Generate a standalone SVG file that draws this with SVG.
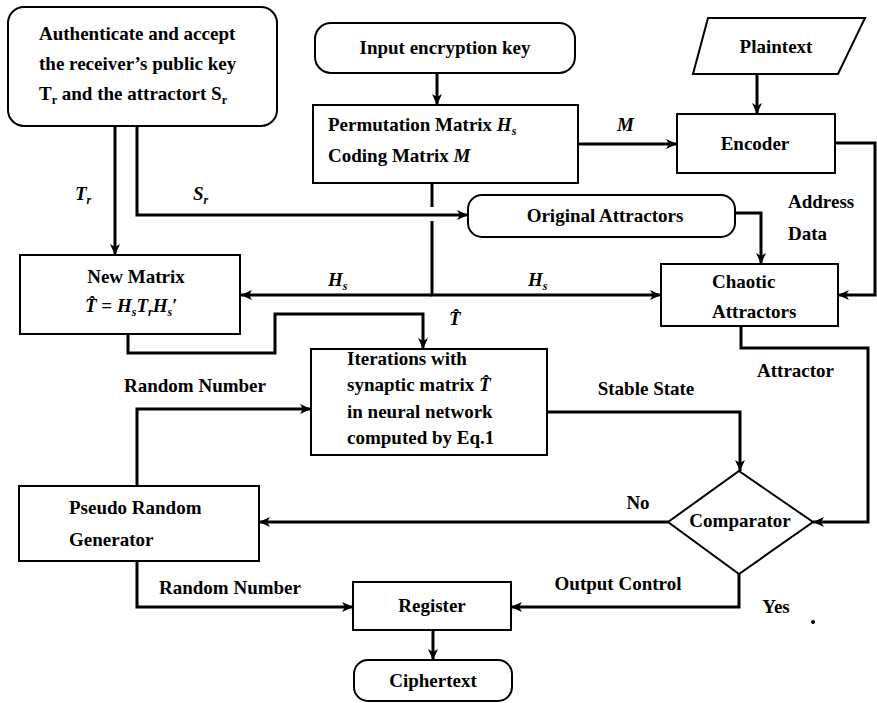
<svg xmlns="http://www.w3.org/2000/svg" width="877" height="703" viewBox="0 0 877 703">
<style>
text{font-family:"Liberation Serif","Times New Roman",serif;font-size:19px;font-weight:bold;fill:#000}
.c{text-anchor:middle}
.i{font-style:italic}
.sub{font-size:12px}
.box{fill:#fff;stroke:#000;stroke-width:2}
.con path{fill:none;stroke:#000;stroke-width:3}
.arr{marker-end:url(#ah)}
</style>
<defs>
<marker id="ah" markerUnits="userSpaceOnUse" markerWidth="12" markerHeight="10" refX="11" refY="5" orient="auto">
<path d="M0,0 L11,5 L0,10 L3,5 z" fill="#000"/>
</marker>
</defs>
<rect width="877" height="703" fill="#fff"/>
<g id="connectors" class="con">
<path class="arr" d="M437,73 V105"/>
<path class="arr" d="M757,74 V114"/>
<path class="arr" d="M578,144 H677"/>
<path class="arr" d="M115,126 V255"/>
<path class="arr" d="M137,126 V215 H468"/>
<path d="M432,183 V207"/>
<path class="arr" d="M432,221 V295 H661"/>
<path class="arr" d="M432,295 H241"/>
<path class="arr" d="M735,213 H761 V264"/>
<path class="arr" d="M835,143 H875 V295 H838"/>
<path class="arr" d="M128,334 V353 H275 V314 H423 V349"/>
<path class="arr" d="M741,326 V348 H868 V522 H813"/>
<path class="arr" d="M547,412 H740 V471"/>
<path class="arr" d="M668,522 H259"/>
<path class="arr" d="M137,486 V409 H311"/>
<path class="arr" d="M137,561 V607 H353"/>
<path class="arr" d="M739,574 V607 H511"/>
<path class="arr" d="M433,630 V660"/>
</g>
<g id="labels">
<text x="75" y="200" class="i">T<tspan class="sub" dy="4">r</tspan></text>
<text x="193" y="200" class="i">S<tspan class="sub" dy="4">r</tspan></text>
<text x="617" y="131" class="i">M</text>
<text x="788" y="208">Address</text>
<text x="788" y="240">Data</text>
<text x="328" y="286" class="i">H<tspan class="sub" dy="4">s</tspan></text>
<text x="528" y="286" class="i">H<tspan class="sub" dy="4">s</tspan></text>
<text x="449" y="325" class="i">T&#x302;</text>
<text x="195" y="392" class="c">Random Number</text>
<text x="646" y="395" class="c">Stable State</text>
<text x="757" y="377">Attractor</text>
<text x="638" y="509" class="c">No</text>
<text x="159" y="594">Random Number</text>
<text x="618" y="590" class="c">Output Control</text>
<text x="776" y="613" class="c">Yes</text>
<circle cx="813" cy="622" r="2" fill="#000"/>
</g>
<g id="auth">
<rect class="box" x="8" y="7" width="269" height="119" rx="16"/>
<text x="39" y="40">Authenticate and accept</text>
<text x="39" y="70">the receiver’s public key</text>
<text x="39" y="100">T<tspan class="sub" dy="4">r</tspan><tspan dy="-4"> and the attractort S</tspan><tspan class="sub" dy="4">r</tspan></text>
</g>
<g id="inputkey">
<rect class="box" x="315" y="23" width="260" height="50" rx="16"/>
<text x="445" y="54" class="c">Input encryption key</text>
</g>
<g id="permutation">
<rect class="box" x="313" y="105" width="265" height="78"/>
<text x="328" y="131">Permutation Matrix <tspan class="i">H</tspan><tspan class="sub i" dy="4">s</tspan></text>
<text x="328" y="162">Coding Matrix <tspan class="i">M</tspan></text>
</g>
<g id="plaintext">
<polygon class="box" points="708,18 865,18 838,74 693,74"/>
<text x="776" y="53" class="c">Plaintext</text>
</g>
<g id="encoder">
<rect class="box" x="677" y="114" width="158" height="59"/>
<text x="755" y="150" class="c">Encoder</text>
</g>
<g id="original">
<rect class="box" x="468" y="195" width="267" height="42" rx="14"/>
<text x="605" y="222" class="c">Original Attractors</text>
</g>
<g id="newmatrix">
<rect class="box" x="20" y="255" width="220" height="79"/>
<text x="136" y="283" class="c">New Matrix</text>
<text x="85" y="312"><tspan class="i">T&#x302;</tspan> = <tspan class="i">H</tspan><tspan class="sub i" dy="4">s</tspan><tspan class="i" dy="-4">T</tspan><tspan class="sub i" dy="4">r</tspan><tspan class="i" dy="-4">H</tspan><tspan class="sub i" dy="4">s</tspan><tspan dy="-4">′</tspan></text>
</g>
<g id="chaotic">
<rect class="box" x="661" y="264" width="177" height="62"/>
<text x="712" y="288">Chaotic</text>
<text x="712" y="318">Attractors</text>
</g>
<g id="iterations">
<rect class="box" x="311" y="349" width="236" height="106"/>
<text x="347" y="365">Iterations with</text>
<text x="347" y="391">synaptic matrix <tspan class="i">T&#x302;</tspan></text>
<text x="347" y="418">in neural network</text>
<text x="347" y="444">computed by Eq.1</text>
</g>
<g id="comparator">
<polygon class="box" points="739,471 813,522 739,574 668,522"/>
<text x="740" y="527" class="c">Comparator</text>
</g>
<g id="prg">
<rect class="box" x="19" y="486" width="240" height="75"/>
<text x="69" y="514">Pseudo Random</text>
<text x="69" y="546">Generator</text>
</g>
<g id="register">
<rect class="box" x="353" y="582" width="158" height="48"/>
<text x="432" y="612" class="c">Register</text>
</g>
<g id="ciphertext">
<rect class="box" x="354" y="660" width="158" height="41" rx="14"/>
<text x="433" y="687" class="c">Ciphertext</text>
</g>
</svg>
